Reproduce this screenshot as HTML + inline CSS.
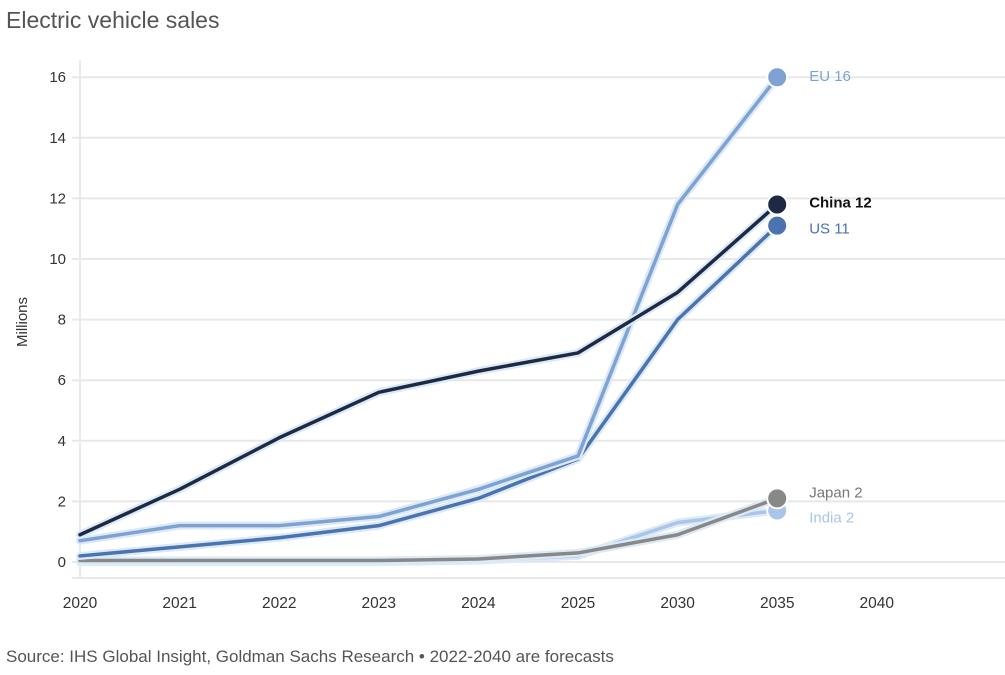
<!DOCTYPE html>
<html><head><meta charset="utf-8"><style>
html,body{margin:0;padding:0;background:#fff;}
body{width:1005px;height:670px;overflow:hidden;font-family:"Liberation Sans",sans-serif;}
</style></head><body>
<svg id="chart" width="1005" height="670" viewBox="0 0 1005 670" xmlns="http://www.w3.org/2000/svg">
<text x="6" y="28" font-size="23" fill="#555" font-family="Liberation Sans, sans-serif">Electric vehicle sales</text>
<text transform="translate(27,322) rotate(-90)" text-anchor="middle" font-size="15" fill="#333">Millions</text>
<g id="grid"></g><g id="lines"></g><g id="labels"></g>
<text x="6" y="662" font-size="17" fill="#555">Source: IHS Global Insight, Goldman Sachs Research • 2022-2040 are forecasts</text>
</svg>
<script>
const categories=["2020","2021","2022","2023","2024","2025","2030","2035","2040"];
const yTicks=[0,2,4,6,8,10,12,14,16];
const seriesNames=["India","Japan","US","EU","China"];
const india=[0,0,0,0,0.05,0.2,1.3,1.7];
const japan=[0.05,0.05,0.05,0.05,0.1,0.3,0.9,2.1];
const us=[0.2,0.5,0.8,1.2,2.1,3.4,8.0,11.1];
const eu=[0.7,1.2,1.2,1.5,2.4,3.5,11.8,16];
const china=[0.9,2.4,4.1,5.6,6.3,6.9,8.9,11.8];
const endLabels=["India 2","Japan 2","US 11","EU 16","China 12"];
const NS="http://www.w3.org/2000/svg";
const x=i=>80+i*99.6;
const y=v=>562-v*30.3;
function mk(tag,attrs,parent){const e=document.createElementNS(NS,tag);for(const k in attrs)e.setAttribute(k,attrs[k]);parent.appendChild(e);return e;}
const grid=document.getElementById('grid'),lines=document.getElementById('lines'),labels=document.getElementById('labels');
yTicks.forEach(t=>{
  const g=mk('line',{x1:72,x2:1005,y1:y(t),y2:y(t),stroke:'#e8e8e8','stroke-width':2},grid);
  
  
  const tx=mk('text',{x:66,y:y(t)+5,'text-anchor':'end','font-size':15,fill:'#333'},grid);
  tx.textContent=t;
  
  
});
const ax=mk('line',{x1:80,x2:80,y1:60,y2:578,stroke:'#eaeaea','stroke-width':2},grid);


const bl=mk('line',{x1:72,x2:1005,y1:578,y2:578,stroke:'#e8e8e8','stroke-width':2},grid);


categories.forEach((c,i)=>{
  const tx=mk('text',{x:x(i),y:608,'text-anchor':'middle','font-size':15.5,fill:'#333'},grid);
  tx.textContent=c;
  
  
});
const data=[india,japan,us,eu,china];
const colors=["#a9c6e8","#888888","#4a73b0","#7ea3d3","#1e2a44"];
const labelColors=["#a9c6e8","#777","#4a73b0","#7ea3d3","#111"];
const labelDy=[12,-1,8,4,3];
data.forEach((d,si)=>{
  const pts=d.map((v,i)=>x(i)+','+y(v)).join(' ');
  const halo=mk('polyline',{points:pts,fill:'none',stroke:'#dce9f7','stroke-width':8,'stroke-linejoin':'round','stroke-linecap':'round'},lines);
  
  
  const pl=mk('polyline',{points:pts,fill:'none',stroke:colors[si],'stroke-width':3.5,'stroke-linejoin':'round','stroke-linecap':'round'},lines);
  
  
  const li=d.length-1;
  const dot=mk('circle',{cx:x(li),cy:y(d[li]),r:10,fill:colors[si],stroke:'#fff','stroke-width':2},lines);
  
  
  const tx=mk('text',{x:x(li)+32,y:y(d[li])+labelDy[si],'font-size':15,fill:labelColors[si],'font-weight':si==4?'bold':'normal'},labels);
  tx.textContent=endLabels[si];
  
  
});
</script>
</body></html>
